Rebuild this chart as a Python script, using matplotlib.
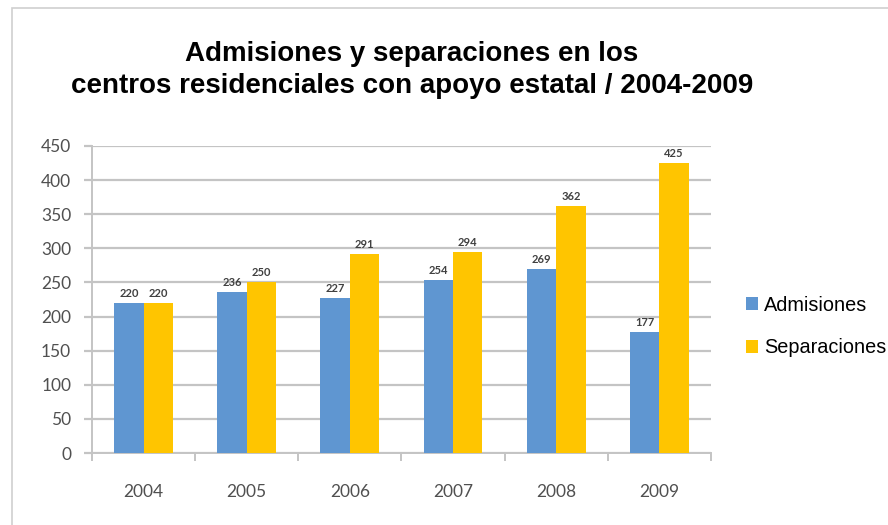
import matplotlib.pyplot as plt
import numpy as np
from matplotlib.patches import Rectangle

# Data
years = ['2004', '2005', '2006', '2007', '2008', '2009']
admisiones = [220, 236, 227, 254, 269, 177]
separaciones = [220, 250, 291, 294, 362, 425]

BLUE = '#5f96d1'
YELLOW = '#ffc500'
GRID = '#c4c4c4'
TICK_TXT = '#505050'

plt.rcParams['font.family'] = ['Lato', 'DejaVu Sans']

fig = plt.figure(figsize=(8.88, 5.25), dpi=100)
ax = fig.add_axes([0.1036, 0.137, 0.697, 0.585])

# light frame around the chart area
fig.patches.append(Rectangle((12 / 888, -0.05), 1.1, 1 - 8 / 525 + 0.05,
                             transform=fig.transFigure, fill=False,
                             edgecolor='#cfcfcf', linewidth=1.2))

x = np.arange(len(years))
w = 0.285
b1 = ax.bar(x - w / 2, admisiones, w, color=BLUE, label='Admisiones', zorder=3)
b2 = ax.bar(x + w / 2, separaciones, w, color=YELLOW, label='Separaciones', zorder=3)

# value labels on top of the bars
for bars in (b1, b2):
    ax.bar_label(bars, padding=3, fontsize=8, color='#404040', fontweight='bold')

ax.set_xlim(-0.5, 5.5)
ax.set_ylim(0, 450)
ax.set_yticks(range(0, 451, 50))
ax.grid(axis='y', color=GRID, linewidth=1.6, zorder=0)
ax.set_axisbelow(True)

ax.set_xticks(x)
ax.set_xticklabels(years)
ax.set_xticks(np.arange(-0.5, 6, 1), minor=True)
ax.tick_params(axis='x', which='major', length=0, pad=22, labelsize=12.5, labelcolor=TICK_TXT)
ax.tick_params(axis='x', which='minor', length=6, width=1.4, color=GRID, direction='out')
ax.tick_params(axis='y', length=6, width=1.6, color=GRID, pad=9, labelsize=12.5, labelcolor=TICK_TXT)

for side in ('top', 'right'):
    ax.spines[side].set_visible(False)
for side in ('left', 'bottom'):
    ax.spines[side].set_color(GRID)
    ax.spines[side].set_linewidth(1.4)

# title
fig.text(0.464, 0.922, 'Admisiones y separaciones en los\ncentros residenciales con apoyo estatal / 2004-2009',
         ha='center', va='top', fontsize=20, fontweight='bold',
         family=['Liberation Sans', 'DejaVu Sans'], linespacing=1.3)

# legend outside on the right
leg = fig.legend(handles=[b1, b2], loc='center left', bbox_to_anchor=(0.82, 0.378),
                 frameon=False, prop={'family': ['Liberation Sans', 'DejaVu Sans'], 'size': 14.3},
                 handlelength=0.6, handleheight=0.6, handletextpad=0.3, labelspacing=1.2)

fig.savefig('out.png', dpi=100)
